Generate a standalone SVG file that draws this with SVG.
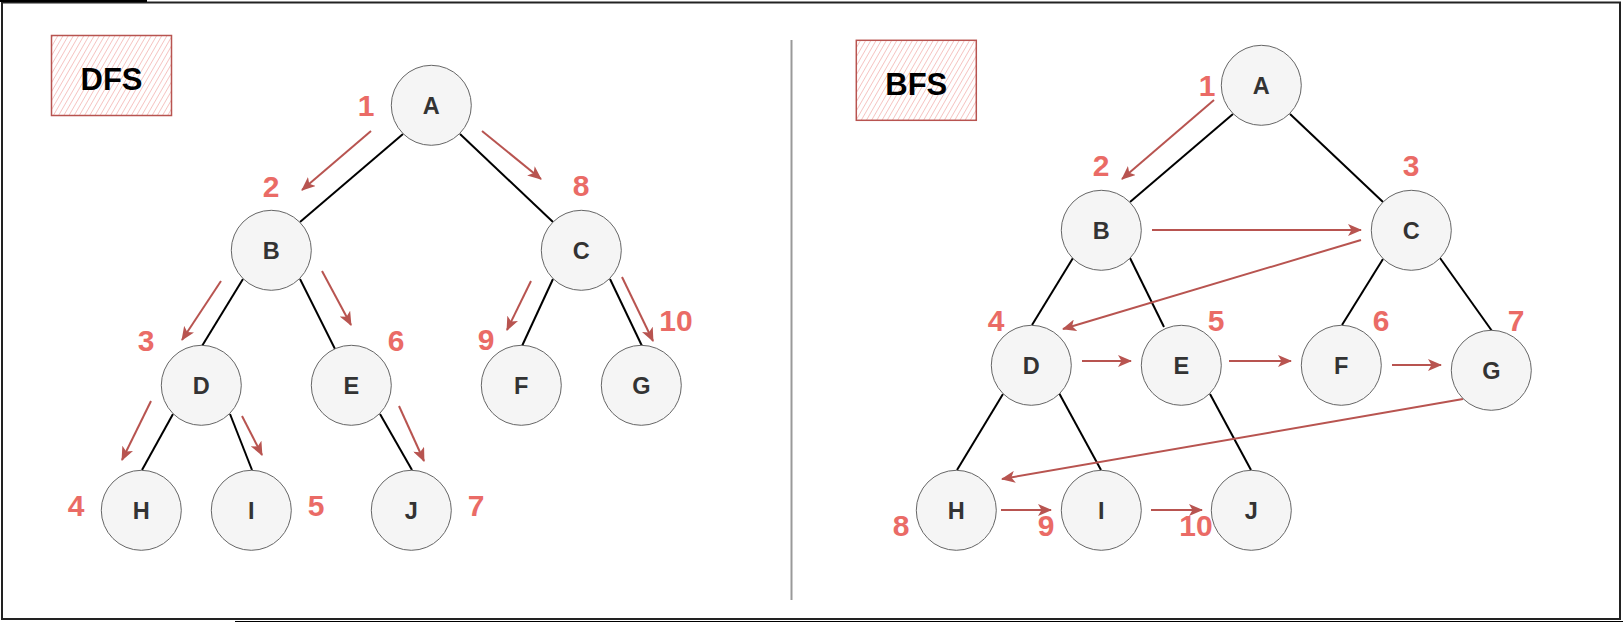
<svg xmlns="http://www.w3.org/2000/svg" width="1623" height="623" viewBox="0 0 1623 623">
  <style>
    .node circle { fill: #f5f5f5; stroke: #666666; stroke-width: 1; }
    .node text { font-family: "Liberation Sans", Arial, sans-serif; font-weight: bold; font-size: 23.5px; fill: #333333; text-anchor: middle; }
    .edge { stroke: #000000; stroke-width: 2; fill: none; }
    .arrow { stroke: #b85450; stroke-width: 2; fill: none; marker-end: url(#ah); }
    .num { font-family: "Liberation Sans", Arial, sans-serif; font-weight: bold; font-size: 30px; fill: #ea6b66; text-anchor: middle; }
    .title rect { fill: url(#hatch); stroke: #b85450; stroke-width: 1.5; }
    .title text { font-family: "Liberation Sans", Arial, sans-serif; font-weight: bold; font-size: 31px; fill: #000000; text-anchor: middle; }
  </style>
  <defs>
    <marker id="ah" markerUnits="userSpaceOnUse" markerWidth="14" markerHeight="12" viewBox="0 0 14 12" refX="13" refY="6" orient="auto">
      <path d="M0,0 L14,6 L0,12 L3.5,6 Z" fill="#b85450" stroke="none"/>
    </marker>
    <pattern id="hatch" patternUnits="userSpaceOnUse" width="4.5" height="4.5" patternTransform="rotate(30)">
      <rect width="4.5" height="4.5" fill="#ffffff"/>
      <line x1="0" y1="0" x2="0" y2="4.5" stroke="#f5c4c2" stroke-width="1.8"/>
    </pattern>
  </defs>

  <rect x="0" y="0" width="1623" height="623" fill="#ffffff"/>

  <g id="frame">
    <rect x="2" y="2.5" width="1618" height="616.5" fill="none" stroke="#222222" stroke-width="2"/>
    <line x1="0" y1="1" x2="147" y2="1" stroke="#000000" stroke-width="2"/>
    <line x1="235" y1="621.5" x2="1623" y2="621.5" stroke="#000000" stroke-width="1"/>
    <line x1="791.5" y1="40" x2="791.5" y2="600" stroke="#999999" stroke-width="2"/>
  </g>

  <g id="dfs-title" class="title">
    <rect x="51.5" y="35.5" width="120" height="80"/>
    <text x="111.5" y="90">DFS</text>
  </g>
  <g id="bfs-title" class="title">
    <rect x="856.3" y="40.3" width="120" height="80"/>
    <text x="916.3" y="95">BFS</text>
  </g>

  <g id="connectors">
    <!-- DFS tree edges -->
    <line class="edge" x1="403" y1="134" x2="300" y2="222"/>
    <line class="edge" x1="460" y1="134" x2="553" y2="222"/>
    <line class="edge" x1="243" y1="279" x2="202" y2="346"/>
    <line class="edge" x1="300" y1="279" x2="335" y2="349"/>
    <line class="edge" x1="173" y1="414" x2="142" y2="470"/>
    <line class="edge" x1="230" y1="414" x2="252" y2="470"/>
    <line class="edge" x1="380" y1="414" x2="412" y2="470"/>
    <line class="edge" x1="553" y1="279" x2="522" y2="346"/>
    <line class="edge" x1="610" y1="279" x2="642" y2="346"/>
    <!-- DFS traversal arrows -->
    <line class="arrow" x1="371" y1="131" x2="302" y2="190"/>
    <line class="arrow" x1="482" y1="131" x2="541" y2="179"/>
    <line class="arrow" x1="221" y1="281" x2="182" y2="340"/>
    <line class="arrow" x1="322" y1="271" x2="351" y2="325"/>
    <line class="arrow" x1="151" y1="401" x2="122" y2="460"/>
    <line class="arrow" x1="242" y1="416" x2="262" y2="455"/>
    <line class="arrow" x1="399" y1="406" x2="424" y2="461"/>
    <line class="arrow" x1="531" y1="281" x2="507" y2="330"/>
    <line class="arrow" x1="622" y1="277" x2="653" y2="341"/>
    <!-- BFS tree edges -->
    <line class="edge" x1="1233" y1="114" x2="1130" y2="202"/>
    <line class="edge" x1="1290" y1="114" x2="1383" y2="202"/>
    <line class="edge" x1="1073" y1="258" x2="1032" y2="325"/>
    <line class="edge" x1="1130" y1="258" x2="1164" y2="327"/>
    <line class="edge" x1="1383" y1="259" x2="1342" y2="325"/>
    <line class="edge" x1="1440" y1="258" x2="1492" y2="331"/>
    <line class="edge" x1="1003" y1="394" x2="957" y2="470"/>
    <line class="edge" x1="1059" y1="393" x2="1101" y2="470"/>
    <line class="edge" x1="1210" y1="394" x2="1251" y2="470"/>
    <!-- BFS traversal arrows -->
    <line class="arrow" x1="1214" y1="100" x2="1122" y2="179"/>
    <line class="arrow" x1="1152" y1="230" x2="1361" y2="230"/>
    <line class="arrow" x1="1361" y1="240" x2="1063" y2="329"/>
    <line class="arrow" x1="1082" y1="361" x2="1131" y2="361"/>
    <line class="arrow" x1="1229" y1="361" x2="1291" y2="361"/>
    <line class="arrow" x1="1392" y1="365" x2="1441" y2="365"/>
    <line class="arrow" x1="1463" y1="399" x2="1002" y2="479"/>
    <line class="arrow" x1="1001" y1="510" x2="1051" y2="510"/>
    <line class="arrow" x1="1151" y1="510" x2="1202" y2="510"/>
  </g>

  <!-- DFS nodes -->
  <g id="dfs-A" class="node"><circle cx="431.3" cy="105.3" r="40"/><text x="431.3" y="113.7">A</text></g>
  <g id="dfs-B" class="node"><circle cx="271.3" cy="250.3" r="40"/><text x="271.3" y="258.7">B</text></g>
  <g id="dfs-C" class="node"><circle cx="581.3" cy="250.3" r="40"/><text x="581.3" y="258.7">C</text></g>
  <g id="dfs-D" class="node"><circle cx="201.3" cy="385.3" r="40"/><text x="201.3" y="393.7">D</text></g>
  <g id="dfs-E" class="node"><circle cx="351.3" cy="385.3" r="40"/><text x="351.3" y="393.7">E</text></g>
  <g id="dfs-F" class="node"><circle cx="521.3" cy="385.3" r="40"/><text x="521.3" y="393.7">F</text></g>
  <g id="dfs-G" class="node"><circle cx="641.3" cy="385.3" r="40"/><text x="641.3" y="393.7">G</text></g>
  <g id="dfs-H" class="node"><circle cx="141.3" cy="510.3" r="40"/><text x="141.3" y="518.7">H</text></g>
  <g id="dfs-I" class="node"><circle cx="251.3" cy="510.3" r="40"/><text x="251.3" y="518.7">I</text></g>
  <g id="dfs-J" class="node"><circle cx="411.3" cy="510.3" r="40"/><text x="411.3" y="518.7">J</text></g>

  <!-- BFS nodes -->
  <g id="bfs-A" class="node"><circle cx="1261.3" cy="85.3" r="40"/><text x="1261.3" y="93.7">A</text></g>
  <g id="bfs-B" class="node"><circle cx="1101.3" cy="230.3" r="40"/><text x="1101.3" y="238.7">B</text></g>
  <g id="bfs-C" class="node"><circle cx="1411.3" cy="230.3" r="40"/><text x="1411.3" y="238.7">C</text></g>
  <g id="bfs-D" class="node"><circle cx="1031.3" cy="365.3" r="40"/><text x="1031.3" y="373.7">D</text></g>
  <g id="bfs-E" class="node"><circle cx="1181.3" cy="365.3" r="40"/><text x="1181.3" y="373.7">E</text></g>
  <g id="bfs-F" class="node"><circle cx="1341.3" cy="365.3" r="40"/><text x="1341.3" y="373.7">F</text></g>
  <g id="bfs-G" class="node"><circle cx="1491.3" cy="370.3" r="40"/><text x="1491.3" y="378.7">G</text></g>
  <g id="bfs-H" class="node"><circle cx="956.3" cy="510.3" r="40"/><text x="956.3" y="518.7">H</text></g>
  <g id="bfs-I" class="node"><circle cx="1101.3" cy="510.3" r="40"/><text x="1101.3" y="518.7">I</text></g>
  <g id="bfs-J" class="node"><circle cx="1251.3" cy="510.3" r="40"/><text x="1251.3" y="518.7">J</text></g>

  <g id="dfs-order">
    <text class="num" x="366" y="116">1</text>
    <text class="num" x="271" y="197">2</text>
    <text class="num" x="146" y="351">3</text>
    <text class="num" x="76" y="516">4</text>
    <text class="num" x="316" y="516">5</text>
    <text class="num" x="396" y="351">6</text>
    <text class="num" x="476" y="516">7</text>
    <text class="num" x="581" y="196">8</text>
    <text class="num" x="486" y="350">9</text>
    <text class="num" x="676" y="331">10</text>
  </g>
  <g id="bfs-order">
    <text class="num" x="1207" y="96">1</text>
    <text class="num" x="1101" y="176">2</text>
    <text class="num" x="1411" y="176">3</text>
    <text class="num" x="996" y="331">4</text>
    <text class="num" x="1216" y="331">5</text>
    <text class="num" x="1381" y="331">6</text>
    <text class="num" x="1516" y="331">7</text>
    <text class="num" x="901" y="536">8</text>
    <text class="num" x="1046" y="536">9</text>
    <text class="num" x="1196" y="536">10</text>
  </g>
</svg>
